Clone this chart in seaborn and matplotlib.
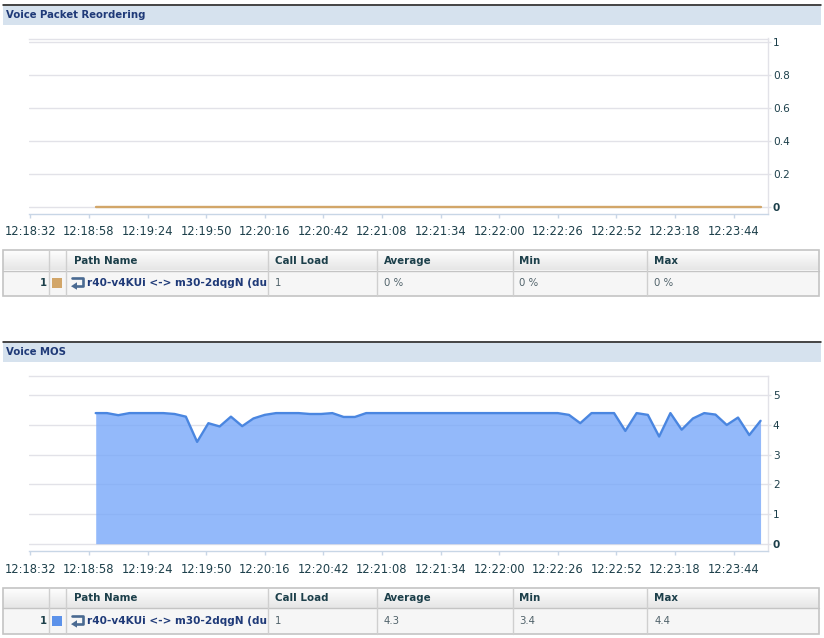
import numpy as np
import pandas as pd
import matplotlib
matplotlib.use("Agg")
import matplotlib.pyplot as plt
from matplotlib.patches import Rectangle, Polygon
from matplotlib.lines import Line2D
import seaborn as sns

# ---------- data ----------
time_labels = ["12:18:32", "12:18:58", "12:19:24", "12:19:50", "12:20:16", "12:20:42", "12:21:08",
               "12:21:34", "12:22:00", "12:22:26", "12:22:52", "12:23:18", "12:23:44"]
sample_seconds = np.arange(29, 325, 5)
reorder_values = [0] * 60
mos_values = [4.4, 4.4, 4.33, 4.4, 4.4, 4.4, 4.4, 4.37, 4.28, 3.43,
              4.06, 3.95, 4.28, 3.96, 4.22, 4.34, 4.4, 4.4, 4.4, 4.37,
              4.37, 4.4, 4.27, 4.27, 4.4, 4.4, 4.4, 4.4, 4.4, 4.4,
              4.4, 4.4, 4.4, 4.4, 4.4, 4.4, 4.4, 4.4, 4.4, 4.4,
              4.4, 4.4, 4.34, 4.06, 4.4, 4.4, 4.4, 3.8, 4.4, 4.34,
              3.61, 4.4, 3.84, 4.22, 4.4, 4.35, 4.0, 4.25, 3.66, 4.14]
reorder_ticks = [0, 0.2, 0.4, 0.6, 0.8, 1]
reorder_tick_labels = ["0", "0.2", "0.4", "0.6", "0.8", "1"]
mos_ticks = [0, 1, 2, 3, 4, 5]
mos_tick_labels = ["0", "1", "2", "3", "4", "5"]
table_header = ["Path Name", "Call Load", "Average", "Min", "Max"]
path_name = "r40-v4KUi <-> m30-2dqgN (du"
reorder_row = ["1", "0 %", "0 %", "0 %"]
mos_row = ["1", "4.3", "3.4", "4.4"]

# ---------- style ----------
sns.set_theme(style="white")
plt.rcParams["font.family"] = ["DejaVu Sans"]
W, H = 824, 638
NAVY = "#1F3A78"
TEAL = "#1C3F4A"
BODY = "#50626A"
GRID = "#E2E2E8"
AXIS = "#C8D6E6"
ORANGE = "#D2A669"
BLUE = "#4A86E0"
SWATCH = "#5C92EA"

fig = plt.figure(figsize=(W / 100, H / 100), dpi=100, facecolor="white")

# full-figure pixel layer for the page furniture
page = fig.add_axes([0, 0, 1, 1], zorder=0)
page.set_xlim(0, W)
page.set_ylim(H, 0)
page.axis("off")


def chart_axes(top, bottom, left=29, right=768):
    return fig.add_axes([left / W, 1 - bottom / H, (right - left) / W, (bottom - top) / H], zorder=1)


def style_chart(ax, ylim, ticks, labels):
    ax.set_facecolor("none")
    ax.set_xlim(-0.6, 327.3)
    ax.set_ylim(*ylim)
    ax.set_xticks(np.arange(len(time_labels)) * 26)
    ax.set_xticklabels(time_labels, fontsize=8.3, color=TEAL)
    ax.yaxis.tick_right()
    ax.set_yticks(ticks)
    ax.set_yticklabels(labels, fontsize=7.6, color=TEAL)
    ax.get_yticklabels()[0].set_fontweight("bold")
    ax.tick_params(axis="x", length=3, width=1, color=AXIS, pad=5.5, bottom=True)
    ax.tick_params(axis="y", length=2.5, width=1, color=GRID, pad=1, right=True)
    ax.grid(axis="y", color=GRID, linewidth=1)
    ax.set_axisbelow(True)
    ax.set_xlabel("")
    ax.set_ylabel("")
    ax.spines["left"].set_visible(False)
    ax.spines["top"].set_color(GRID)
    ax.spines["top"].set_linewidth(1)
    ax.spines["right"].set_color(GRID)
    ax.spines["right"].set_linewidth(1)
    ax.spines["bottom"].set_color(AXIS)
    ax.spines["bottom"].set_linewidth(1)


def header_band(y_line, y0, y1, title):
    page.add_patch(Rectangle((3, y0), 818, y1 - y0, facecolor="#D6E2EE", edgecolor="none"))
    page.add_line(Line2D([3, 821], [y_line, y_line], color="#111111", linewidth=1.1))
    page.text(6, (y0 + y1) / 2 - 0.5, title, fontsize=7.3, fontweight="bold", color=NAVY, va="center", ha="left")


def data_table(y0, y1, y2, swatch, row):
    cols = [3.5, 49.5, 66.5, 268.5, 377.5, 512.7, 647.3, 819.5]
    page.add_patch(Rectangle((cols[0], y1), cols[-1] - cols[0], y2 - y1, facecolor="#F6F6F6", edgecolor="none"))
    grad = np.linspace(1, 0.90, 32).reshape(-1, 1)
    page.imshow(grad, extent=(cols[0], cols[-1], y1, y0), cmap="gray", vmin=0, vmax=1, aspect="auto", zorder=0.5)
    page.set_xlim(0, W)
    page.set_ylim(H, 0)
    page.add_patch(Rectangle((cols[0], y0), cols[-1] - cols[0], y2 - y0, facecolor="none",
                             edgecolor="#C4C4C4", linewidth=1.2, zorder=2))
    page.add_line(Line2D([cols[0], cols[-1]], [y1, y1], color="#C4C4C4", linewidth=1, zorder=2))
    for c in cols[1:-1]:
        page.add_line(Line2D([c, c], [y0, y2], color="#CFCFCF", linewidth=1, zorder=2))
    ym0 = (y0 + y1) / 2 + 0.5
    ym1 = (y1 + y2) / 2 - 0.5
    for c, name in zip([74, 275, 384, 519.5, 654.5], table_header):
        page.text(c, ym0, name, fontsize=7.4, fontweight="bold", color=TEAL, va="center", ha="left", zorder=3)
    page.text(47, ym1, row[0], fontsize=7.3, fontweight="bold", color=TEAL, va="center", ha="right", zorder=3)
    page.add_patch(Rectangle((52.5, ym1 - 5), 10, 10, facecolor=swatch, edgecolor="none", zorder=3))
    # return-arrow icon
    ic = "#4A6A92"
    page.add_line(Line2D([72, 83, 83, 76], [ym1 - 4.5, ym1 - 4.5, ym1 + 3.5, ym1 + 3.5],
                         color=ic, linewidth=1.9, zorder=3))
    page.add_patch(Polygon([[71, ym1 + 3.5], [77, ym1 - 0.5], [77, ym1 + 7]], facecolor=ic, edgecolor="none", zorder=3))
    page.text(87, ym1, path_name, fontsize=7.6, fontweight="bold", color=NAVY, va="center", ha="left", zorder=3)
    page.text(275, ym1, row[0], fontsize=7.3, color=BODY, va="center", ha="left", zorder=3)
    for c, v in zip([384, 519.5, 654.5], row[1:]):
        page.text(c, ym1, v, fontsize=7.3, color=BODY, va="center", ha="left", zorder=3)


# ---------- top chart ----------
header_band(4.7, 5.5, 24.7, "Voice Packet Reordering")
ax1 = chart_axes(38.5, 213.5)
df1 = pd.DataFrame({"t": sample_seconds, "v": reorder_values})
sns.lineplot(data=df1, x="t", y="v", ax=ax1, color=ORANGE, linewidth=1.7, errorbar=None, zorder=3)
style_chart(ax1, (-0.0424, 1.0182), reorder_ticks, reorder_tick_labels)
data_table(250, 270.5, 296, ORANGE, reorder_row)

# ---------- bottom chart ----------
header_band(342.3, 343, 362.3, "Voice MOS")
ax2 = chart_axes(376.3, 551)
df2 = pd.DataFrame({"t": sample_seconds, "v": mos_values})
ax2.fill_between(df2["t"], 0, df2["v"], color="#78A8F9", alpha=0.8, linewidth=0, zorder=2)
sns.lineplot(data=df2, x="t", y="v", ax=ax2, color=BLUE, linewidth=1.7, errorbar=None, zorder=3)
style_chart(ax2, (-0.246, 5.64), mos_ticks, mos_tick_labels)
data_table(587.5, 608.3, 634, SWATCH, mos_row)

fig.savefig("out.png", dpi=100, facecolor="white")
